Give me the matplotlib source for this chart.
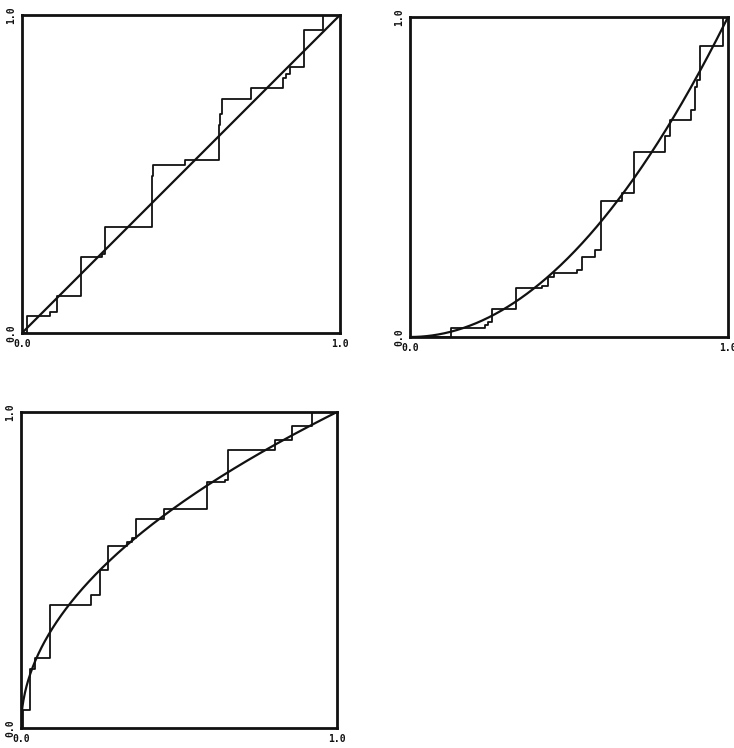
import numpy as np
import matplotlib
matplotlib.use("Agg")
import matplotlib.pyplot as plt

# Panel 1: step function vs y = x
p1_x = [0, 0.017, 0.087, 0.109, 0.187, 0.253, 0.262, 0.408, 0.413, 0.513, 0.619, 0.623, 0.630, 0.719, 0.820, 0.829, 0.842, 0.886, 0.945, 1.0]
p1_y = [0, 0.054, 0.066, 0.117, 0.239, 0.247, 0.334, 0.495, 0.529, 0.544, 0.655, 0.690, 0.736, 0.772, 0.801, 0.815, 0.836, 0.954, 1.0, 1.0]

# Panel 2: step function vs y = x^2
p2_x = [0, 0.128, 0.236, 0.246, 0.257, 0.333, 0.414, 0.435, 0.453, 0.526, 0.541, 0.583, 0.600, 0.666, 0.703, 0.803, 0.817, 0.883, 0.896, 0.902, 0.911, 0.984, 1.0]
p2_y = [0, 0.028, 0.039, 0.048, 0.087, 0.152, 0.158, 0.188, 0.201, 0.209, 0.251, 0.271, 0.426, 0.449, 0.579, 0.628, 0.679, 0.708, 0.780, 0.804, 0.908, 1.0, 1.0]

# Panel 3: step function vs y = sqrt(x)
p3_x = [0, 0.006, 0.028, 0.044, 0.092, 0.222, 0.251, 0.274, 0.337, 0.350, 0.365, 0.451, 0.590, 0.645, 0.655, 0.805, 0.859, 0.920, 1.0]
p3_y = [0, 0.057, 0.186, 0.221, 0.389, 0.422, 0.501, 0.576, 0.590, 0.600, 0.660, 0.694, 0.777, 0.786, 0.880, 0.911, 0.957, 1.0, 1.0]

curve_exponents = [1.0, 2.0, 0.5]
tick_labels = ["0.0", "1.0"]

W, H = 734, 748
fig = plt.figure(figsize=(W / 100, H / 100), dpi=100)

def box(x0, y0, x1, y1):
    return [x0 / W, 1 - y1 / H, (x1 - x0) / W, (y1 - y0) / H]

rects = [box(22, 15, 340, 333), box(410, 17, 728, 337), box(21, 412, 337, 728)]
steps = [(p1_x, p1_y), (p2_x, p2_y), (p3_x, p3_y)]
ink = "#111111"

for rect, (sx, sy), k in zip(rects, steps, curve_exponents):
    ax = fig.add_axes(rect)
    ax.step(sx, sy, where="post", color=ink, lw=1.3)
    xs = np.linspace(0, 1, 400)
    ax.plot(xs, xs ** k, color=ink, lw=1.6)
    ax.set_xlim(0, 1)
    ax.set_ylim(0, 1)
    for s in ax.spines.values():
        s.set_linewidth(2.0)
        s.set_color(ink)
    ax.set_xticks([0, 1])
    ax.set_xticklabels(tick_labels, fontsize=7, fontweight="bold", family="DejaVu Sans Mono")
    ax.set_yticks([0, 1])
    ax.set_yticklabels(tick_labels, fontsize=7, fontweight="bold", family="DejaVu Sans Mono",
                       rotation=90, va="center")
    ax.tick_params(length=0, pad=4, colors=ink)
    ax.patch.set_visible(False)

fig.savefig("out.png", dpi=100)
